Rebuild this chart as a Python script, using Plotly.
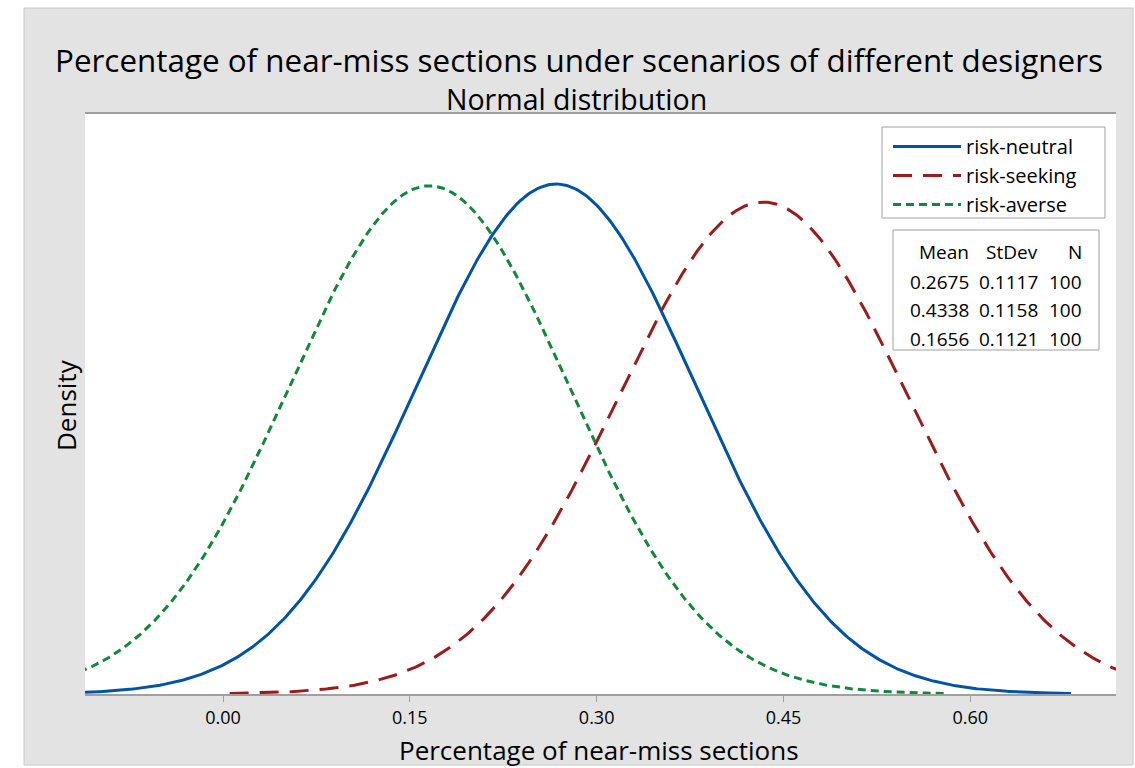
import numpy as np
import plotly.graph_objects as go

# ---- data ----
series_names = ["risk-neutral", "risk-seeking", "risk-averse"]
means = [0.2675, 0.4338, 0.1656]
stdevs = [0.1117, 0.1158, 0.1121]
counts = [100, 100, 100]
tick_vals = [0.00, 0.15, 0.30, 0.45, 0.60]
tick_text = ["0.00", "0.15", "0.30", "0.45", "0.60"]

colors = ["#0054A6", "#9B1C1C", "#11883A"]
dashes = ["solid", "19px,11px", "8px,5px"]

W, H = 1135, 768
L, R, T, B = 85, 1116, 113, 694  # plot area in pixels

def px(x):
    return (x - L) / (R - L)

def py(y):
    return (B - y) / (B - T)

FONT = "Open Sans"

fig = go.Figure()
for name, m, s, c, d in zip(series_names, means, stdevs, colors, dashes):
    xs = np.linspace(m - 3.7 * s, m + 3.7 * s, 600)
    ys = np.exp(-0.5 * ((xs - m) / s) ** 2) / (s * np.sqrt(2 * np.pi))
    fig.add_trace(go.Scatter(x=xs, y=ys, mode="lines", name=name,
                             line=dict(color=c, width=3, dash=d)))

shapes = [
    # grey panel
    dict(type="rect", xref="paper", yref="paper", x0=px(24), x1=px(1133), y0=py(765), y1=py(8),
         fillcolor="#e3e3e3", line=dict(color="#c8c8c8", width=1), layer="below"),
    # white data region
    dict(type="rect", xref="paper", yref="paper", x0=0, x1=1, y0=0, y1=1,
         fillcolor="white", line=dict(width=0), layer="below"),
    # top frame line
    dict(type="line", xref="paper", yref="paper", x0=0, x1=1, y0=1, y1=1,
         line=dict(color="#a0a0a0", width=2)),
    # legend frame
    dict(type="rect", xref="paper", yref="paper", x0=px(882), x1=px(1105), y0=py(218), y1=py(127),
         fillcolor="white", line=dict(color="#a0a0a0", width=1)),
    # stats table box
    dict(type="rect", xref="paper", yref="paper", x0=px(893), x1=px(1099), y0=py(350), y1=py(230),
         fillcolor="white", line=dict(color="#a0a0a0", width=1)),
]

annotations = [
    dict(text="Percentage of near-miss sections under scenarios of different designers",
         xref="paper", yref="paper", x=px(579), y=py(60), showarrow=False,
         font=dict(family=FONT, size=31.4, color="black"), xanchor="center", yanchor="middle"),
    dict(text="Normal distribution", xref="paper", yref="paper", x=px(576), y=py(99),
         showarrow=False, font=dict(family=FONT, size=28.5, color="black"),
         xanchor="center", yanchor="middle"),
    dict(text="Percentage of near-miss sections", xref="paper", yref="paper", x=px(599), y=py(750),
         showarrow=False, font=dict(family=FONT, size=26, color="black"),
         xanchor="center", yanchor="middle"),
    dict(text="Density", xref="paper", yref="paper", x=px(66), y=py(405), textangle=-90,
         showarrow=False, font=dict(family=FONT, size=26, color="black"),
         xanchor="center", yanchor="middle"),
]

# stats table columns
col_right = [971, 1040, 1084]
headers = ["Mean", "StDev", "N"]
cols = [[f"{v:.4f}" for v in means], [f"{v:.4f}" for v in stdevs], [str(v) for v in counts]]
row_y = [252, 282, 310, 339]
for cx, hdr, vals in zip(col_right, headers, cols):
    for ry, txt in zip(row_y, [hdr] + vals):
        annotations.append(dict(text=txt, xref="paper", yref="paper", x=px(cx), y=py(ry),
                                showarrow=False, xanchor="right", yanchor="middle",
                                font=dict(family=FONT, size=19, color="black")))

fig.update_layout(
    width=W, height=H,
    margin=dict(l=L, r=W - R, t=T, b=H - B, pad=0),
    paper_bgcolor="white", plot_bgcolor="white",
    showlegend=True,
    legend=dict(x=px(888), y=py(127), xanchor="left", yanchor="top",
                bgcolor="rgba(0,0,0,0)", borderwidth=0,
                font=dict(family=FONT, size=20, color="black"), itemwidth=68),
    xaxis=dict(range=[-0.1108, 0.717], tickvals=tick_vals, ticktext=tick_text,
               showgrid=False, zeroline=False, showline=True, linecolor="#a0a0a0", linewidth=2,
               ticks="outside", ticklen=6, tickcolor="#a0a0a0", tickwidth=1,
               tickfont=dict(family=FONT, size=18, color="black")),
    yaxis=dict(range=[0, 4.069], showticklabels=False, showgrid=False, zeroline=False,
               showline=False, ticks=""),
    shapes=shapes, annotations=annotations,
)

fig.write_html("out.html")
